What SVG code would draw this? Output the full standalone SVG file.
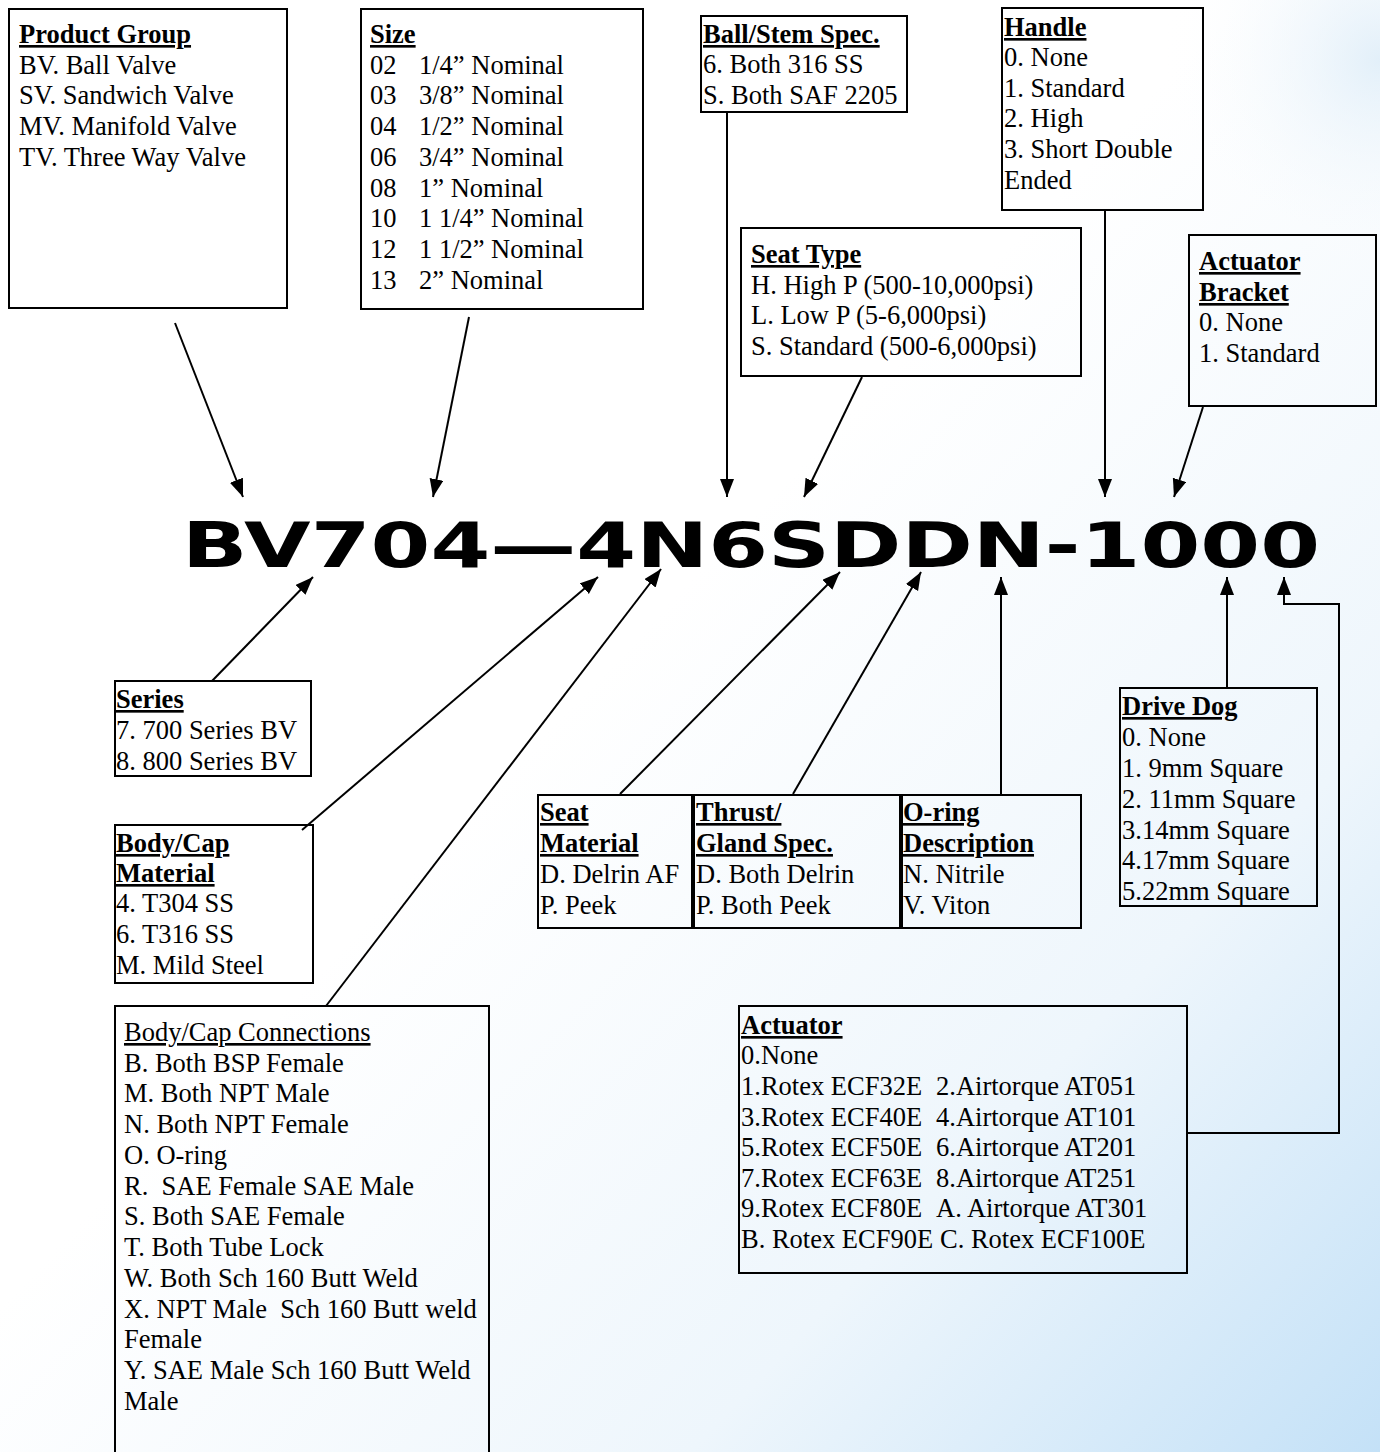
<svg xmlns="http://www.w3.org/2000/svg" width="1380" height="1452" viewBox="0 0 1380 1452">
<defs>
<linearGradient id="bg" x1="0" y1="0" x2="1" y2="1">
<stop offset="0.45" stop-color="#ffffff"/>
<stop offset="0.75" stop-color="#eef6fc"/>
<stop offset="1" stop-color="#c4e1f7"/>
</linearGradient>
<radialGradient id="tr" cx="1380" cy="60" r="220" gradientUnits="userSpaceOnUse">
<stop offset="0" stop-color="#dcecf8" stop-opacity="0.8"/>
<stop offset="1" stop-color="#ffffff" stop-opacity="0"/>
</radialGradient>
<marker id="ah" markerUnits="userSpaceOnUse" markerWidth="20" markerHeight="16" refX="18" refY="7" orient="auto">
<path d="M0,0 L18,7 L0,14 Z" fill="#000"/>
</marker>
</defs>
<style>
.box{fill:none;stroke:#000;stroke-width:2}
.t{font-family:"Liberation Serif","Times New Roman",serif;font-size:26.5px;fill:#000}
.h{font-weight:bold;text-decoration:underline}
.u{text-decoration:underline}
.c{fill:none;stroke:#000;stroke-width:2}
.code{font-family:"DejaVu Sans","Liberation Sans",sans-serif;font-weight:bold;font-size:62px;fill:#000}
</style>
<rect x="0" y="0" width="1380" height="1452" fill="url(#bg)"/>
<rect x="1100" y="0" width="280" height="300" fill="url(#tr)"/>

<text class="code" x="182" y="567" textLength="1138" lengthAdjust="spacingAndGlyphs">BV704—4N6SDDN-1000</text>

<g id="connectors">
<line class="c" x1="175" y1="323" x2="243" y2="497" marker-end="url(#ah)"/>
<line class="c" x1="469" y1="317" x2="433" y2="497" marker-end="url(#ah)"/>
<line class="c" x1="727" y1="112" x2="727" y2="497" marker-end="url(#ah)"/>
<line class="c" x1="862" y1="377" x2="804" y2="497" marker-end="url(#ah)"/>
<line class="c" x1="1105" y1="210" x2="1105" y2="497" marker-end="url(#ah)"/>
<line class="c" x1="1203" y1="407" x2="1174" y2="497" marker-end="url(#ah)"/>
<line class="c" x1="212" y1="681" x2="313" y2="577" marker-end="url(#ah)"/>
<line class="c" x1="302" y1="830" x2="598" y2="577" marker-end="url(#ah)"/>
<line class="c" x1="326" y1="1006" x2="661" y2="569" marker-end="url(#ah)"/>
<line class="c" x1="620" y1="794" x2="840" y2="572" marker-end="url(#ah)"/>
<line class="c" x1="793" y1="794" x2="921" y2="572" marker-end="url(#ah)"/>
<line class="c" x1="1001" y1="794" x2="1001" y2="577" marker-end="url(#ah)"/>
<line class="c" x1="1227" y1="688" x2="1227" y2="577" marker-end="url(#ah)"/>
<polyline class="c" points="1187,1133 1339,1133 1339,604 1284,604 1284,577" marker-end="url(#ah)"/>
</g>

<g id="product-group">
<rect class="box" x="9" y="9" width="278" height="299"/>
<text class="t h" x="19" y="43">Product Group</text>
<text class="t" x="19" y="74">BV. Ball Valve</text>
<text class="t" x="19" y="104">SV. Sandwich Valve</text>
<text class="t" x="19" y="135">MV. Manifold Valve</text>
<text class="t" x="19" y="166">TV. Three Way Valve</text>
</g>

<g id="size">
<rect class="box" x="361" y="9" width="282" height="300"/>
<text class="t h" x="370" y="43">Size</text>
<text class="t" x="370" y="74">02<tspan x="419">1/4” Nominal</tspan></text>
<text class="t" x="370" y="104">03<tspan x="419">3/8” Nominal</tspan></text>
<text class="t" x="370" y="135">04<tspan x="419">1/2” Nominal</tspan></text>
<text class="t" x="370" y="166">06<tspan x="419">3/4” Nominal</tspan></text>
<text class="t" x="370" y="197">08<tspan x="419">1” Nominal</tspan></text>
<text class="t" x="370" y="227">10<tspan x="419">1 1/4” Nominal</tspan></text>
<text class="t" x="370" y="258">12<tspan x="419">1 1/2” Nominal</tspan></text>
<text class="t" x="370" y="289">13<tspan x="419">2” Nominal</tspan></text>
</g>

<g id="ball-stem">
<rect class="box" x="701" y="16" width="206" height="96"/>
<text class="t h" x="703" y="43">Ball/Stem Spec.</text>
<text class="t" x="703" y="73">6. Both 316 SS</text>
<text class="t" x="703" y="104">S. Both SAF 2205</text>
</g>

<g id="handle">
<rect class="box" x="1002" y="8" width="201" height="202"/>
<text class="t h" x="1004" y="36">Handle</text>
<text class="t" x="1004" y="66">0. None</text>
<text class="t" x="1004" y="97">1. Standard</text>
<text class="t" x="1004" y="127">2. High</text>
<text class="t" x="1004" y="158">3. Short Double</text>
<text class="t" x="1004" y="189">Ended</text>
</g>

<g id="seat-type">
<rect class="box" x="741" y="228" width="340" height="148"/>
<text class="t h" x="751" y="263">Seat Type</text>
<text class="t" x="751" y="294">H. High P (500-10,000psi)</text>
<text class="t" x="751" y="324">L. Low P (5-6,000psi)</text>
<text class="t" x="751" y="355">S. Standard (500-6,000psi)</text>
</g>

<g id="actuator-bracket">
<rect class="box" x="1189" y="235" width="187" height="171"/>
<text class="t h" x="1199" y="270">Actuator</text>
<text class="t h" x="1199" y="301">Bracket</text>
<text class="t" x="1199" y="331">0. None</text>
<text class="t" x="1199" y="362">1. Standard</text>
</g>

<g id="series">
<rect class="box" x="115" y="681" width="196" height="95"/>
<text class="t h" x="116" y="708">Series</text>
<text class="t" x="116" y="739">7. 700 Series BV</text>
<text class="t" x="116" y="770">8. 800 Series BV</text>
</g>

<g id="body-cap-material">
<rect class="box" x="115" y="825" width="198" height="158"/>
<text class="t h" x="116" y="852">Body/Cap</text>
<text class="t h" x="116" y="882">Material</text>
<text class="t" x="116" y="912">4. T304 SS</text>
<text class="t" x="116" y="943">6. T316 SS</text>
<text class="t" x="116" y="974">M. Mild Steel</text>
</g>

<g id="body-cap-connections">
<rect class="box" x="115" y="1006" width="374" height="460"/>
<text class="t u" x="124" y="1041">Body/Cap Connections</text>
<text class="t" x="124" y="1072">B. Both BSP Female</text>
<text class="t" x="124" y="1102">M. Both NPT Male</text>
<text class="t" x="124" y="1133">N. Both NPT Female</text>
<text class="t" x="124" y="1164">O. O-ring</text>
<text class="t" x="124" y="1195" xml:space="preserve">R.  SAE Female SAE Male</text>
<text class="t" x="124" y="1225">S. Both SAE Female</text>
<text class="t" x="124" y="1256">T. Both Tube Lock</text>
<text class="t" x="124" y="1287">W. Both Sch 160 Butt Weld</text>
<text class="t" x="124" y="1318" xml:space="preserve">X. NPT Male  Sch 160 Butt weld</text>
<text class="t" x="124" y="1348">Female</text>
<text class="t" x="124" y="1379">Y. SAE Male Sch 160 Butt Weld</text>
<text class="t" x="124" y="1410">Male</text>
</g>

<g id="seat-material">
<rect class="box" x="538" y="795" width="154" height="133"/>
<text class="t h" x="540" y="821">Seat</text>
<text class="t h" x="540" y="852">Material</text>
<text class="t" x="540" y="883">D. Delrin AF</text>
<text class="t" x="540" y="914">P. Peek</text>
</g>

<g id="thrust-gland">
<rect class="box" x="694" y="795" width="206" height="133"/>
<text class="t h" x="696" y="821">Thrust/</text>
<text class="t h" x="696" y="852">Gland Spec.</text>
<text class="t" x="696" y="883">D. Both Delrin</text>
<text class="t" x="696" y="914">P. Both Peek</text>
</g>

<g id="o-ring">
<rect class="box" x="902" y="795" width="179" height="133"/>
<text class="t h" x="903" y="821">O-ring</text>
<text class="t h" x="903" y="852">Description</text>
<text class="t" x="903" y="883">N. Nitrile</text>
<text class="t" x="903" y="914">V. Viton</text>
</g>

<g id="drive-dog">
<rect class="box" x="1120" y="688" width="197" height="218"/>
<text class="t h" x="1122" y="715">Drive Dog</text>
<text class="t" x="1122" y="746">0. None</text>
<text class="t" x="1122" y="777">1. 9mm Square</text>
<text class="t" x="1122" y="808">2. 11mm Square</text>
<text class="t" x="1122" y="839">3.14mm Square</text>
<text class="t" x="1122" y="869">4.17mm Square</text>
<text class="t" x="1122" y="900">5.22mm Square</text>
</g>

<g id="actuator">
<rect class="box" x="739" y="1006" width="448" height="267"/>
<text class="t h" x="741" y="1034">Actuator</text>
<text class="t" x="741" y="1064">0.None</text>
<text class="t" x="741" y="1095">1.Rotex ECF32E<tspan x="936">2.Airtorque AT051</tspan></text>
<text class="t" x="741" y="1126">3.Rotex ECF40E<tspan x="936">4.Airtorque AT101</tspan></text>
<text class="t" x="741" y="1156">5.Rotex ECF50E<tspan x="936">6.Airtorque AT201</tspan></text>
<text class="t" x="741" y="1187">7.Rotex ECF63E<tspan x="936">8.Airtorque AT251</tspan></text>
<text class="t" x="741" y="1217">9.Rotex ECF80E<tspan x="936">A. Airtorque AT301</tspan></text>
<text class="t" x="741" y="1248">B. Rotex ECF90E<tspan x="940">C. Rotex ECF100E</tspan></text>
</g>
</svg>
